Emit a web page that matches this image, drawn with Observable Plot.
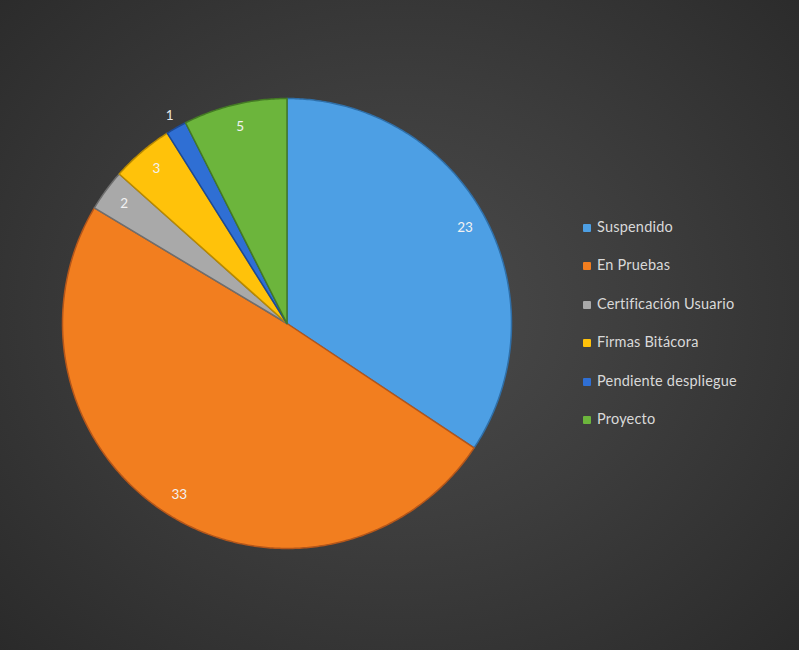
<!DOCTYPE html>
<html>
<head>
<meta charset="utf-8">
<script src="https://cdn.jsdelivr.net/npm/d3@7"></script>
<script src="https://cdn.jsdelivr.net/npm/@observablehq/plot@0.6"></script>
<style>
  html, body { margin: 0; padding: 0; }
  body { width: 799px; height: 650px; overflow: hidden; }
  #wrap { position: relative; width: 799px; height: 650px;
    background: radial-gradient(ellipse 70% 75% at 50% 48%, #4b4b4b 0%, #3d3d3d 45%, #2a2a2a 100%); }
  #legend { position: absolute; left: 583px; top: 218px; font-family: Lato, "Open Sans", sans-serif;
    font-size: 14.5px; color: #d9d9d9; letter-spacing: 0.2px; }
  .item { height: 38.4px; display: flex; align-items: flex-start; }
  .sw { width: 8px; height: 8px; margin: 6px 6px 0 0; border-radius: 1px; }
</style>
</head>
<body>
<div id="wrap"><div id="chart"></div><div id="legend"></div></div>
<script>
const categories = ["Suspendido", "En Pruebas", "Certificación Usuario", "Firmas Bitácora", "Pendiente despliegue", "Proyecto"];
const values = [23, 33, 2, 3, 1, 5];
const colors = ["#4d9fe4", "#f27e1f", "#a9a9a9", "#ffc20a", "#2f6fd4", "#6cb53c"];
const edges = ["#2f6fa8", "#b4561a", "#6e6e6e", "#b98a00", "#1d4a94", "#447a24"];

const data = categories.map((c, i) => ({category: c, value: values[i], color: colors[i], edge: edges[i]}));
const arcs = d3.pie().sort(null).value(d => d.value)(data);

// polygon points in unit-circle data space (angle measured clockwise from 12 o'clock)
const poly = [];
arcs.forEach((a, i) => {
  const n = Math.max(4, Math.ceil((a.endAngle - a.startAngle) / 0.01));
  poly.push({k: i, x: 0, y: 0, ...a.data});
  for (let j = 0; j <= n; j++) {
    const t = a.startAngle + (a.endAngle - a.startAngle) * j / n;
    poly.push({k: i, x: Math.sin(t), y: Math.cos(t), ...a.data});
  }
});

const labels = arcs.map(a => {
  const m = (a.startAngle + a.endAngle) / 2;
  const r = a.data.value <= 1 ? 1.06 : 0.9;
  return {x: r * Math.sin(m), y: r * Math.cos(m), text: String(a.data.value), out: a.data.value <= 1};
});

const chart = Plot.plot({
  width: 799,
  height: 650,
  marginLeft: 62,
  marginRight: 288,
  marginTop: 98,
  marginBottom: 102,
  x: {domain: [-1, 1], axis: null},
  y: {domain: [-1, 1], axis: null},
  style: {background: "transparent", overflow: "visible"},
  marks: [
    Plot.line(poly, {x: "x", y: "y", z: "k", fill: "color", stroke: "edge", strokeWidth: 1.5,
      curve: "linear-closed", strokeLinejoin: "round"}),
    Plot.text(labels, {x: "x", y: "y", text: "text", fill: d => d.out ? "#e6e6e6" : "#f2f2f2",
      fontSize: 13.5, fontFamily: "Lato, 'Open Sans', sans-serif"})
  ]
});
document.getElementById("chart").appendChild(chart);

const lg = document.getElementById("legend");
data.forEach(d => {
  const it = document.createElement("div");
  it.className = "item";
  it.innerHTML = `<span class="sw" style="background:${d.color}"></span><span>${d.category}</span>`;
  lg.appendChild(it);
});
</script>
</body>
</html>
